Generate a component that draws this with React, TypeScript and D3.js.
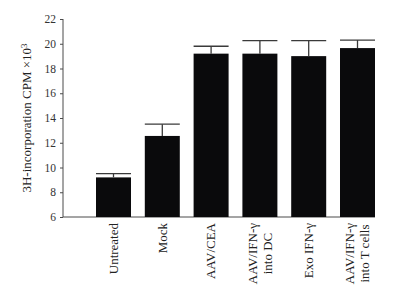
import React, { useEffect, useRef } from "react";
import * as d3 from "d3";

const categories: string[][] = [
  ["Untreated"],
  ["Mock"],
  ["AAV/CEA"],
  ["AAV/IFN-γ", "into DC"],
  ["Exo IFN-γ"],
  ["AAV/IFN-γ", "into T cells"],
];
const means: number[] = [9.2, 12.55, 19.2, 19.2, 19.0, 19.65];
const errors: number[] = [0.3, 0.95, 0.6, 1.05, 1.25, 0.65];
const yTicks: number[] = [6, 8, 10, 12, 14, 16, 18, 20, 22];

const W = 403;
const H = 296;
const FONT = "'Liberation Serif', 'Times New Roman', serif";

export default function App() {
  const ref = useRef<SVGSVGElement | null>(null);

  useEffect(() => {
    const svg = d3.select(ref.current);
    svg.selectAll("*").remove();

    const y = d3.scaleLinear().domain([6, 22]).range([217, 19]);
    const x = d3
      .scaleBand<number>()
      .domain(categories.map((_, i) => i))
      .range([96, 375])
      .paddingInner(0.283)
      .paddingOuter(0);

    const axisColor = "#4a4a4a";

    // y axis
    const yAxis = d3
      .axisLeft(y)
      .tickValues(yTicks)
      .tickSize(3)
      .tickPadding(4)
      .tickFormat(d3.format("d") as any);
    const gy = svg.append("g").attr("transform", "translate(63,0)").call(yAxis);
    gy.select(".domain").attr("stroke", axisColor).attr("d", `M0,${y(22)}V${y(6)}`);
    gy.selectAll(".tick line").attr("stroke", axisColor);
    gy.selectAll(".tick text")
      .attr("fill", "#333")
      .style("font-family", FONT)
      .style("font-size", "11.5px");

    // x axis line
    svg
      .append("line")
      .attr("x1", 63)
      .attr("x2", 375)
      .attr("y1", y(6))
      .attr("y2", y(6))
      .attr("stroke", axisColor)
      .attr("stroke-width", 1);

    // bars
    svg
      .append("g")
      .selectAll("rect")
      .data(means)
      .join("rect")
      .attr("x", (_, i) => x(i)!)
      .attr("width", x.bandwidth())
      .attr("y", (d) => y(d))
      .attr("height", (d) => y(6) - y(d))
      .attr("fill", "#0a0a0c");

    // error bars
    const eg = svg.append("g").attr("stroke", "#3a3a3a").attr("stroke-width", 1.3);
    means.forEach((m, i) => {
      const x0 = x(i)!;
      const cx = x0 + x.bandwidth() / 2;
      eg.append("line")
        .attr("x1", cx)
        .attr("x2", cx)
        .attr("y1", y(m))
        .attr("y2", y(m + errors[i]));
      eg.append("line")
        .attr("x1", x0)
        .attr("x2", x0 + x.bandwidth())
        .attr("y1", y(m + errors[i]))
        .attr("y2", y(m + errors[i]));
    });

    // x labels
    const lg = svg.append("g");
    const topY = 223;
    const lineGap = 15;
    categories.forEach((lines, i) => {
      const cx = x(i)! + x.bandwidth() / 2;
      const n = lines.length;
      const texts = lines.map((ln, j) => {
        const off = (j - (n - 1) / 2) * lineGap;
        return lg
          .append("text")
          .text(ln)
          .style("font-family", FONT)
          .style("font-size", "13px")
          .attr("fill", "#222")
          .attr("text-anchor", "middle")
          .attr("dy", "0.33em")
          .attr("data-off", off);
      });
      const lens = texts.map((t) => (t.node() as SVGTextElement).getComputedTextLength());
      const maxLen = Math.max(...lens);
      const cy = topY + maxLen / 2;
      texts.forEach((t, j) => {
        const off = (j - (n - 1) / 2) * lineGap;
        t.attr("transform", `translate(${cx + off},${cy}) rotate(-90)`);
      });
    });

    // y label
    const yl = svg
      .append("text")
      .attr("transform", `translate(31,118) rotate(-90)`)
      .attr("text-anchor", "middle")
      .style("font-family", FONT)
      .style("font-size", "13px")
      .attr("fill", "#222");
    yl.append("tspan").text("3H-incorporation CPM ×10");
    yl.append("tspan").text("3").attr("dy", "-0.45em").style("font-size", "9px");
  }, []);

  return (
    <svg
      ref={ref}
      width={W}
      height={H}
      style={{ position: "absolute", left: 0, top: 0, background: "#fff" }}
    />
  );
}
